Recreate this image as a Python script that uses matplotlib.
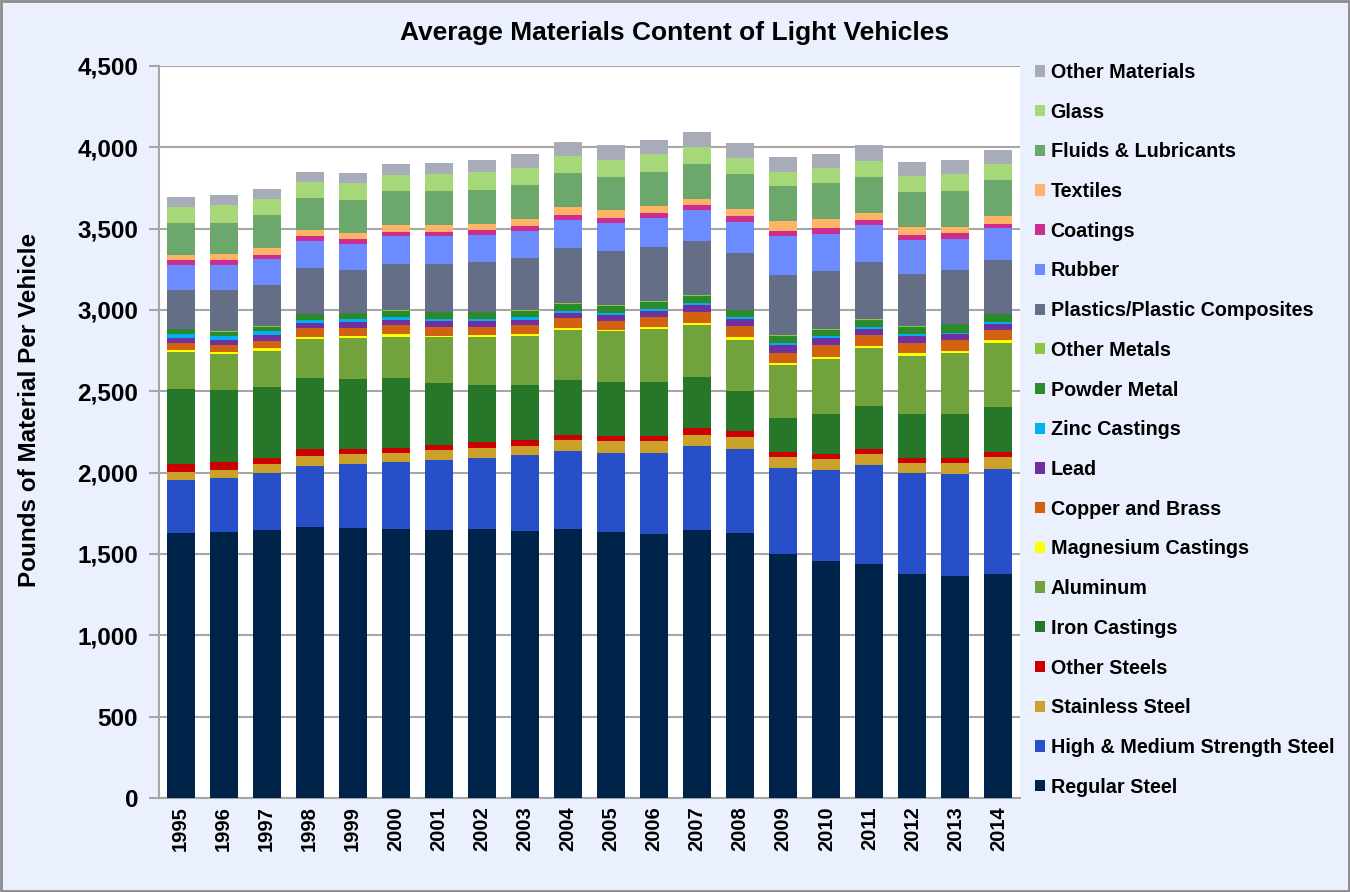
import matplotlib.pyplot as plt
import numpy as np
from matplotlib.patches import Rectangle
from matplotlib.ticker import FuncFormatter

plt.rcParams['font.family'] = ['Liberation Sans', 'DejaVu Sans']
plt.rcParams['font.weight'] = 'bold'

years = [str(y) for y in range(1995, 2015)]

# pounds per vehicle (bottom of stack first)
regular_steel = [1631, 1637, 1648, 1668, 1662, 1656, 1648, 1652, 1643, 1652, 1637, 1623, 1648, 1627, 1500, 1460, 1440, 1378, 1366, 1378]
hms_steel = [322, 330, 347, 373, 390, 410, 428, 441, 463, 480, 486, 500, 514, 520, 527, 555, 606, 617, 625, 647]
stainless = [53, 51, 57, 61, 61, 55, 61, 61, 59, 71, 73, 71, 71, 71, 67, 71, 67, 65, 69, 71]
other_steels = [45, 47, 41, 41, 31, 31, 31, 35, 37, 31, 31, 31, 41, 37, 35, 31, 35, 33, 33, 31]
iron_castings = [464, 443, 433, 439, 433, 431, 382, 351, 337, 333, 330, 330, 312, 245, 208, 245, 259, 269, 269, 276]
aluminum = [224, 220, 224, 237, 251, 253, 282, 292, 300, 310, 312, 327, 322, 316, 322, 335, 357, 357, 373, 394]
magnesium = [14, 12, 16, 16, 14, 16, 10, 16, 16, 12, 10, 14, 14, 16, 14, 16, 16, 14, 14, 18]
copper = [43, 45, 45, 53, 47, 57, 55, 49, 53, 59, 55, 61, 65, 71, 65, 71, 67, 67, 65, 63]
lead = [31, 33, 37, 35, 39, 31, 37, 33, 33, 33, 37, 37, 41, 41, 47, 41, 39, 41, 37, 39]
zinc = [24, 20, 24, 16, 16, 14, 10, 14, 16, 14, 8, 10, 12, 10, 10, 14, 10, 10, 10, 12]
powder_metal = [31, 29, 25, 35, 35, 41, 41, 41, 37, 41, 47, 45, 47, 45, 45, 41, 43, 45, 51, 45]
other_metals = [4, 4, 5, 4, 4, 4, 4, 4, 4, 4, 4, 4, 4, 4, 4, 4, 4, 4, 4, 4]
plastics = [239, 255, 251, 280, 265, 286, 296, 306, 322, 341, 330, 335, 333, 347, 374, 353, 351, 323, 327, 327]
rubber = [149, 153, 159, 169, 159, 167, 167, 169, 167, 173, 175, 175, 188, 194, 235, 231, 226, 208, 194, 200]
coatings = [31, 27, 29, 25, 31, 27, 27, 29, 27, 31, 29, 35, 31, 33, 35, 35, 33, 27, 35, 24]
textiles = [35, 37, 43, 37, 37, 45, 45, 37, 45, 47, 51, 43, 41, 45, 57, 57, 43, 51, 41, 51]
fluids = [196, 194, 198, 200, 204, 206, 206, 210, 208, 208, 204, 208, 214, 214, 220, 218, 222, 218, 220, 218]
glass = [100, 106, 98, 100, 100, 100, 106, 106, 104, 104, 106, 112, 102, 98, 86, 92, 98, 94, 102, 98]
other_materials = [57, 65, 65, 57, 61, 67, 67, 75, 86, 90, 88, 82, 92, 92, 92, 92, 98, 90, 86, 86]

series = [
    ('Regular Steel', regular_steel, '#00234A'),
    ('High & Medium Strength Steel', hms_steel, '#2750C8'),
    ('Stainless Steel', stainless, '#CBA12A'),
    ('Other Steels', other_steels, '#CC0000'),
    ('Iron Castings', iron_castings, '#26772A'),
    ('Aluminum', aluminum, '#72A23C'),
    ('Magnesium Castings', magnesium, '#FFFF00'),
    ('Copper and Brass', copper, '#D06210'),
    ('Lead', lead, '#7030A0'),
    ('Zinc Castings', zinc, '#00B0F0'),
    ('Powder Metal', powder_metal, '#2B8A2B'),
    ('Other Metals', other_metals, '#8DC63F'),
    ('Plastics/Plastic Composites', plastics, '#656E87'),
    ('Rubber', rubber, '#6B8BFF'),
    ('Coatings', coatings, '#CC2E8F'),
    ('Textiles', textiles, '#FFB366'),
    ('Fluids & Lubricants', fluids, '#6CA86C'),
    ('Glass', glass, '#A6D87A'),
    ('Other Materials', other_materials, '#A8ABB8'),
]

fig = plt.figure(figsize=(13.5, 8.92), dpi=100)
fig.patch.set_facecolor('#EAF0FD')
ax = fig.add_axes([159/1350, 1-798/892, 861/1350, 732/892])
ax.set_facecolor('white')

x = np.arange(len(years))
bottom = np.zeros(len(years))
handles = []
for name, vals, col in series:
    b = ax.bar(x, vals, width=0.65, bottom=bottom, color=col, label=name, linewidth=0, zorder=3)
    handles.append(b)
    bottom += np.array(vals)

ax.set_xlim(-0.5, len(years)-0.5)
ax.set_ylim(0, 4500)
ax.set_yticks(range(0, 4501, 500))
ax.yaxis.set_major_formatter(FuncFormatter(lambda v, p: f'{int(v):,}'))
ax.grid(axis='y', color='#A6A6A6', linewidth=1.5, zorder=0)
ax.set_axisbelow(True)
for s in ['top', 'right']:
    ax.spines[s].set_visible(False)
ax.spines['left'].set_color('#A6A6A6')
ax.spines['left'].set_linewidth(1.5)
ax.spines['bottom'].set_color('#A6A6A6')
ax.spines['bottom'].set_linewidth(1.5)
ax.tick_params(axis='y', length=7, width=1.5, color='#A6A6A6', labelsize=17.5, pad=8)
ax.tick_params(axis='x', length=0, labelsize=14.5, pad=6)
ax.set_xticks(x)
ax.set_xticklabels(years, rotation=90)
for lab in ax.get_xticklabels() + ax.get_yticklabels():
    lab.set_fontweight('bold')

fig.text(0.5, 1-33/892, 'Average Materials Content of Light Vehicles', ha='center', va='center',
         fontsize=19, fontweight='bold')
fig.text(30/1350, 1-410/892, 'Pounds of Material Per Vehicle', rotation=90, ha='center', va='center',
         fontsize=17.5, fontweight='bold')

fig.legend(handles[::-1], [s[0] for s in series][::-1], loc='upper left',
           bbox_to_anchor=(1027/1350, 1-55/892), frameon=False, prop={'size': 14.2, 'weight': 'bold'},
           handlelength=0.5, handleheight=0.5, handletextpad=0.3, labelspacing=1.05, borderaxespad=0)

fig.patches.append(Rectangle((0.001, 0.001), 0.998, 0.998, transform=fig.transFigure,
                             fill=False, edgecolor='#8C8C8C', linewidth=2))

fig.savefig('out.png', dpi=100, facecolor=fig.get_facecolor())
